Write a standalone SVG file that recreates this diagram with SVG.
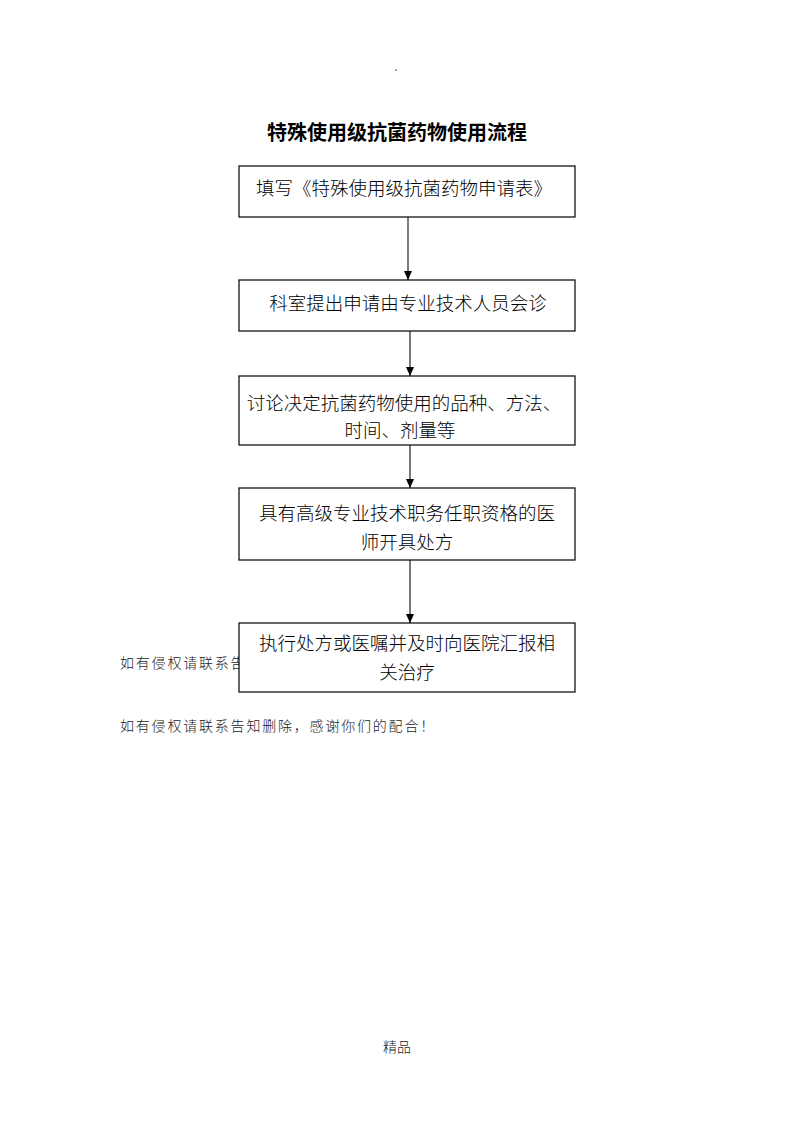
<svg xmlns="http://www.w3.org/2000/svg" width="793" height="1122" viewBox="0 0 793 1122">
<style>
.box{fill:#fff;stroke:#000;stroke-width:1.2}
.t{font-family:"Noto Sans CJK SC","Liberation Serif",sans-serif;font-size:18.5px;fill:#000;text-anchor:middle;font-weight:300}
.title{font-family:"Noto Sans CJK SC","Liberation Sans",sans-serif;font-size:20px;font-weight:bold;fill:#000;text-anchor:middle}
.note{font-family:"Noto Sans CJK SC","Liberation Sans",sans-serif;font-size:14px;fill:#222;letter-spacing:1.8px;font-weight:300}
.conn{stroke:#222;stroke-width:1.2;fill:none;marker-end:url(#ah)}
</style>
<defs>
<marker id="ah" markerWidth="9" markerHeight="8" refX="9" refY="4" orient="auto" markerUnits="userSpaceOnUse" viewBox="0 0 9 8">
<path d="M0,0 L9,4 L0,8 Z" fill="#000"/>
</marker>
</defs>
<rect width="793" height="1122" fill="#fff"/>
<circle cx="396" cy="70" r="0.8" fill="#333"/>
<text class="title" x="397" y="140">特殊使用级抗菌药物使用流程</text>
<text class="note" x="120" y="668">如有侵权请联系告</text>
<g id="connectors">
<line class="conn" x1="408" y1="217" x2="408" y2="280"/>
<line class="conn" x1="410" y1="331" x2="410" y2="376"/>
<line class="conn" x1="410" y1="445" x2="410" y2="488"/>
<line class="conn" x1="410" y1="560" x2="410" y2="623"/>
</g>
<g id="n1"><rect class="box" x="239" y="166" width="336" height="51"/><text class="t" x="404" y="195">填写《特殊使用级抗菌药物申请表》</text></g>
<g id="n2"><rect class="box" x="239" y="280" width="336" height="51"/><text class="t" x="408" y="310">科室提出申请由专业技术人员会诊</text></g>
<g id="n3"><rect class="box" x="239" y="376" width="336" height="69"/><text class="t" x="404" y="410">讨论决定抗菌药物使用的品种、方法、</text><text class="t" x="400" y="437">时间、剂量等</text></g>
<g id="n4"><rect class="box" x="239" y="488" width="336" height="72"/><text class="t" x="407" y="520">具有高级专业技术职务任职资格的医</text><text class="t" x="407" y="549">师开具处方</text></g>
<g id="n5"><rect class="box" x="239" y="623" width="336" height="69"/><text class="t" x="407" y="650">执行处方或医嘱并及时向医院汇报相</text><text class="t" x="407" y="679">关治疗</text></g>
<text class="note" x="120" y="731">如有侵权请联系告知删除，感谢你们的配合！</text>
<text x="397" y="1052" style="font-family:'Noto Sans CJK SC',sans-serif;font-size:14px;text-anchor:middle;fill:#222;font-weight:300">精品</text>
</svg>
